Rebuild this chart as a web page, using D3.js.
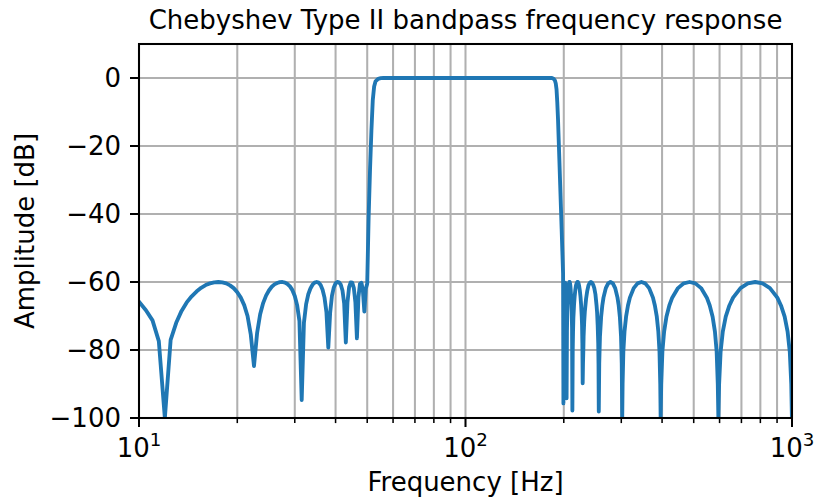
<!DOCTYPE html>
<html>
<head>
<meta charset="utf-8">
<script src="https://cdn.jsdelivr.net/npm/d3@7"></script>
<style>
  body { margin: 0; background: #fff; }
  text { font-family: "DejaVu Sans", sans-serif; fill: #000; }
</style>
</head>
<body>
<svg id="chart" width="815" height="501"></svg>
<script>
// Magnitude response, [frequency in Hz, amplitude in dB]
const lowerStopband = [
  [10, -65.8], [10.5, -68.3], [11, -71.3], [11.5, -77.4], [12, -100], [12.5, -77],
  [13, -72], [13.5, -68.5], [14, -66], [14.5, -64.2], [15, -62.8], [15.5, -61.7],
  [16, -60.9], [16.5, -60.4], [17, -60.1], [17.5, -60], [18, -60.1], [18.5, -60.4],
  [19, -61], [19.5, -61.8], [20, -63], [20.5, -64.6], [21, -66.8], [21.5, -70],
  [22, -75.5], [22.5, -84.7], [23, -75], [23.5, -69.5], [24, -66.2], [24.5, -64],
  [25, -62.5], [25.5, -61.4], [26, -60.7], [26.5, -60.3], [27, -60.05], [27.5, -60],
  [28, -60.2], [28.5, -60.6], [29, -61.3], [29.5, -62.4], [30, -64.1], [30.5, -66.8],
  [31, -71.5], [31.5, -94.7], [32, -72], [32.5, -66.5], [33, -63.6], [33.5, -61.9],
  [34, -60.8], [34.5, -60.2], [35, -60], [35.5, -60.2], [36, -60.9], [36.5, -62.3],
  [37, -64.6], [37.5, -68.8], [38, -79.3], [38.5, -69], [39, -64], [39.5, -61.6],
  [40, -60.4], [40.5, -60], [41, -60.1], [41.5, -60.8], [42, -62.5], [42.5, -66.3],
  [43, -77.8], [43.5, -66], [44, -61.5], [44.5, -60.1], [45, -60.2], [45.5, -61.8],
  [46, -66], [46.5, -76.6], [47, -64.5], [47.5, -60.6], [48, -60.2], [48.5, -62.5],
  [49, -68.7], [49.5, -62], [50, -60.5]
];

const passband = [
  [50.5, -41], [51, -27], [51.5, -15.5], [52, -6.5], [52.5, -2.5], [53, -1],
  [54, -0.25], [55, -0.05], [56, 0], [100, 0], [184, 0], [186, -0.2], [188, -0.8],
  [189, -1.6], [190, -3.3]
];

const upperStopband = [
  [191, -7], [192, -12], [193, -18.5], [194, -25], [195, -31.5], [196, -38],
  [197, -44.5], [198, -51], [199, -57.5], [199.5, -95.7], [200, -69.6], [200.5, -64],
  [201, -61.3], [201.5, -60.2], [202, -60.2], [202.5, -61.3], [203, -64], [203.5, -69.6],
  [204, -94.2], [204.5, -74.6], [205, -68.8], [205.5, -65.5], [206, -63.5], [206.5, -62],
  [207, -61], [207.5, -60.4], [208, -60], [208.5, -60], [209, -60.4], [209.5, -61.1],
  [210, -62.3], [210.5, -63.9], [211, -65.9], [211.5, -68.7], [212, -73.5], [212.5, -97.8],
  [213, -80.2], [213.5, -74.3], [214, -70.6], [215, -66.7], [216, -64.1], [217, -62.2],
  [218, -61], [219, -60.4], [220, -60], [221, -60], [222, -60.4], [223, -61.3],
  [224, -62.6], [225, -64.3], [226, -66.7], [227, -70.2], [227.5, -72.7], [228, -78],
  [228.5, -89.8], [229, -84], [229.5, -80.5], [230, -76], [231, -71.6], [232, -68.7],
  [234, -65], [236, -62.6], [238, -61], [240, -60.3], [242, -60], [244, -60.2],
  [246, -60.8], [248, -61.8], [250, -63.6], [252, -66.9], [253, -69.1], [254, -72.7],
  [255, -78], [255.5, -84], [256, -98.1], [256.8, -84], [258.1, -76.1], [260.3, -70.2],
  [262.4, -66.9], [264.6, -64.6], [269, -61.8], [273.5, -60.4], [278, -60], [282.7, -60.4],
  [287.4, -61.8], [292.1, -64.6], [294.6, -66.9], [297, -70.2], [299.5, -76.1], [301, -84],
  [302, -100], [302.8, -90], [304.4, -80.5], [306.9, -74.6], [310.3, -70.2], [314.5, -66.9],
  [318.8, -64.6], [327.5, -61.8], [336.5, -60.4], [345.8, -60], [355.3, -60.4], [365.1, -61.8],
  [375.1, -64.6], [380.2, -66.9], [385.4, -70.2], [389.6, -74.6], [392.8, -80.5], [394.9, -90],
  [396, -100], [397.6, -90], [400.9, -80.5], [405.8, -74.6], [412.5, -70.2], [421, -66.9],
  [429.7, -64.6], [447.5, -61.8], [466.1, -60.4], [485.5, -60], [505.7, -60.4], [526.7, -61.8],
  [548.5, -64.6], [559.8, -66.9], [571.3, -70.2], [580.7, -74.6], [587.8, -80.5], [592.5, -90],
  [595, -100], [598.1, -90], [604.4, -80.5], [613.8, -74.6], [626.7, -70.2], [643.1, -66.9],
  [660.1, -64.6], [695.5, -61.8], [732.5, -60.4], [771.5, -60], [812.4, -60.4], [855.8, -61.8],
  [901.6, -64.6], [925.1, -66.9], [949.5, -70.2], [969.4, -74.6], [984.5, -80.5], [994.8, -90],
  [999.5, -100]
];

const yTicks = [0, -20, -40, -60, -80, -100];
const xMajorTicks = [10, 100, 1000];
const xMajorExponents = ["1", "2", "3"];
const xMinorTicks = [20, 30, 40, 50, 60, 70, 80, 90, 200, 300, 400, 500, 600, 700, 800, 900];

const titleText = "Chebyshev Type II bandpass frequency response";
const xLabelText = "Frequency [Hz]";
const yLabelText = "Amplitude [dB]";

// Layout
const W = 815, H = 501;
const plot = { left: 139, right: 792, top: 44, bottom: 418 };
const fontPx = 26;
const lineBlue = "#1f77b4";
const gridGrey = "#b0b0b0";

const svg = d3.select("#chart");

const x = d3.scaleLog().domain([10, 1000]).range([plot.left, plot.right]);
const y = d3.scaleLinear().domain([-100, 10]).range([plot.bottom, plot.top]);

svg.append("defs").append("clipPath").attr("id", "plotClip")
  .append("rect")
  .attr("x", plot.left).attr("y", plot.top)
  .attr("width", plot.right - plot.left).attr("height", plot.bottom - plot.top);

// Grid: major and minor verticals, major horizontals
const grid = svg.append("g").attr("stroke", gridGrey).attr("stroke-width", 2.05);
grid.selectAll(".vx").data(xMajorTicks.concat(xMinorTicks)).join("line")
  .attr("x1", d => x(d)).attr("x2", d => x(d))
  .attr("y1", plot.top).attr("y2", plot.bottom);
grid.selectAll(".hy").data(yTicks).join("line")
  .attr("x1", plot.left).attr("x2", plot.right)
  .attr("y1", d => y(d)).attr("y2", d => y(d));

// Response curve
const response = lowerStopband.concat(passband, upperStopband);
const line = d3.line().x(d => x(d[0])).y(d => y(d[1])).curve(d3.curveLinear);
svg.append("path")
  .attr("clip-path", "url(#plotClip)")
  .attr("d", line(response))
  .attr("fill", "none")
  .attr("stroke", lineBlue)
  .attr("stroke-width", 3.85)
  .attr("stroke-linejoin", "round")
  .attr("stroke-linecap", "square");

// Spines
svg.append("rect")
  .attr("x", plot.left).attr("y", plot.top)
  .attr("width", plot.right - plot.left).attr("height", plot.bottom - plot.top)
  .attr("fill", "none").attr("stroke", "#000").attr("stroke-width", 2.05);

// Y axis ticks and labels
const yAxis = svg.append("g");
yAxis.selectAll("line").data(yTicks).join("line")
  .attr("x1", plot.left - 9).attr("x2", plot.left)
  .attr("y1", d => y(d)).attr("y2", d => y(d))
  .attr("stroke", "#000").attr("stroke-width", 2.05);
yAxis.selectAll("text").data(yTicks).join("text")
  .attr("x", plot.left - 18)
  .attr("y", d => y(d))
  .attr("dy", "0.36em")
  .attr("text-anchor", "end")
  .attr("font-size", fontPx)
  .text(d => d < 0 ? "\u2212" + Math.abs(d) : String(d));

// X axis ticks and labels
const xAxis = svg.append("g");
xAxis.selectAll(".maj").data(xMajorTicks).join("line")
  .attr("x1", d => x(d)).attr("x2", d => x(d))
  .attr("y1", plot.bottom).attr("y2", plot.bottom + 9)
  .attr("stroke", "#000").attr("stroke-width", 2.05);
xAxis.selectAll(".min").data(xMinorTicks).join("line")
  .attr("x1", d => x(d)).attr("x2", d => x(d))
  .attr("y1", plot.bottom).attr("y2", plot.bottom + 5.1)
  .attr("stroke", "#000").attr("stroke-width", 1.54);
xMajorTicks.forEach((t, i) => {
  const lbl = xAxis.append("text")
    .attr("x", x(t))
    .attr("y", 457)
    .attr("text-anchor", "middle")
    .attr("font-size", fontPx);
  lbl.append("tspan").text("10");
  lbl.append("tspan").attr("font-size", fontPx * 0.7).attr("dy", -11).text(xMajorExponents[i]);
});

// Title and axis labels
svg.append("text")
  .attr("x", (plot.left + plot.right) / 2).attr("y", 28.6)
  .attr("text-anchor", "middle").attr("font-size", fontPx)
  .text(titleText);
svg.append("text")
  .attr("x", (plot.left + plot.right) / 2).attr("y", 491)
  .attr("text-anchor", "middle").attr("font-size", fontPx)
  .text(xLabelText);
svg.append("text")
  .attr("transform", `translate(34,${(plot.top + plot.bottom) / 2}) rotate(-90)`)
  .attr("text-anchor", "middle").attr("font-size", fontPx)
  .text(yLabelText);
</script>
</body>
</html>
